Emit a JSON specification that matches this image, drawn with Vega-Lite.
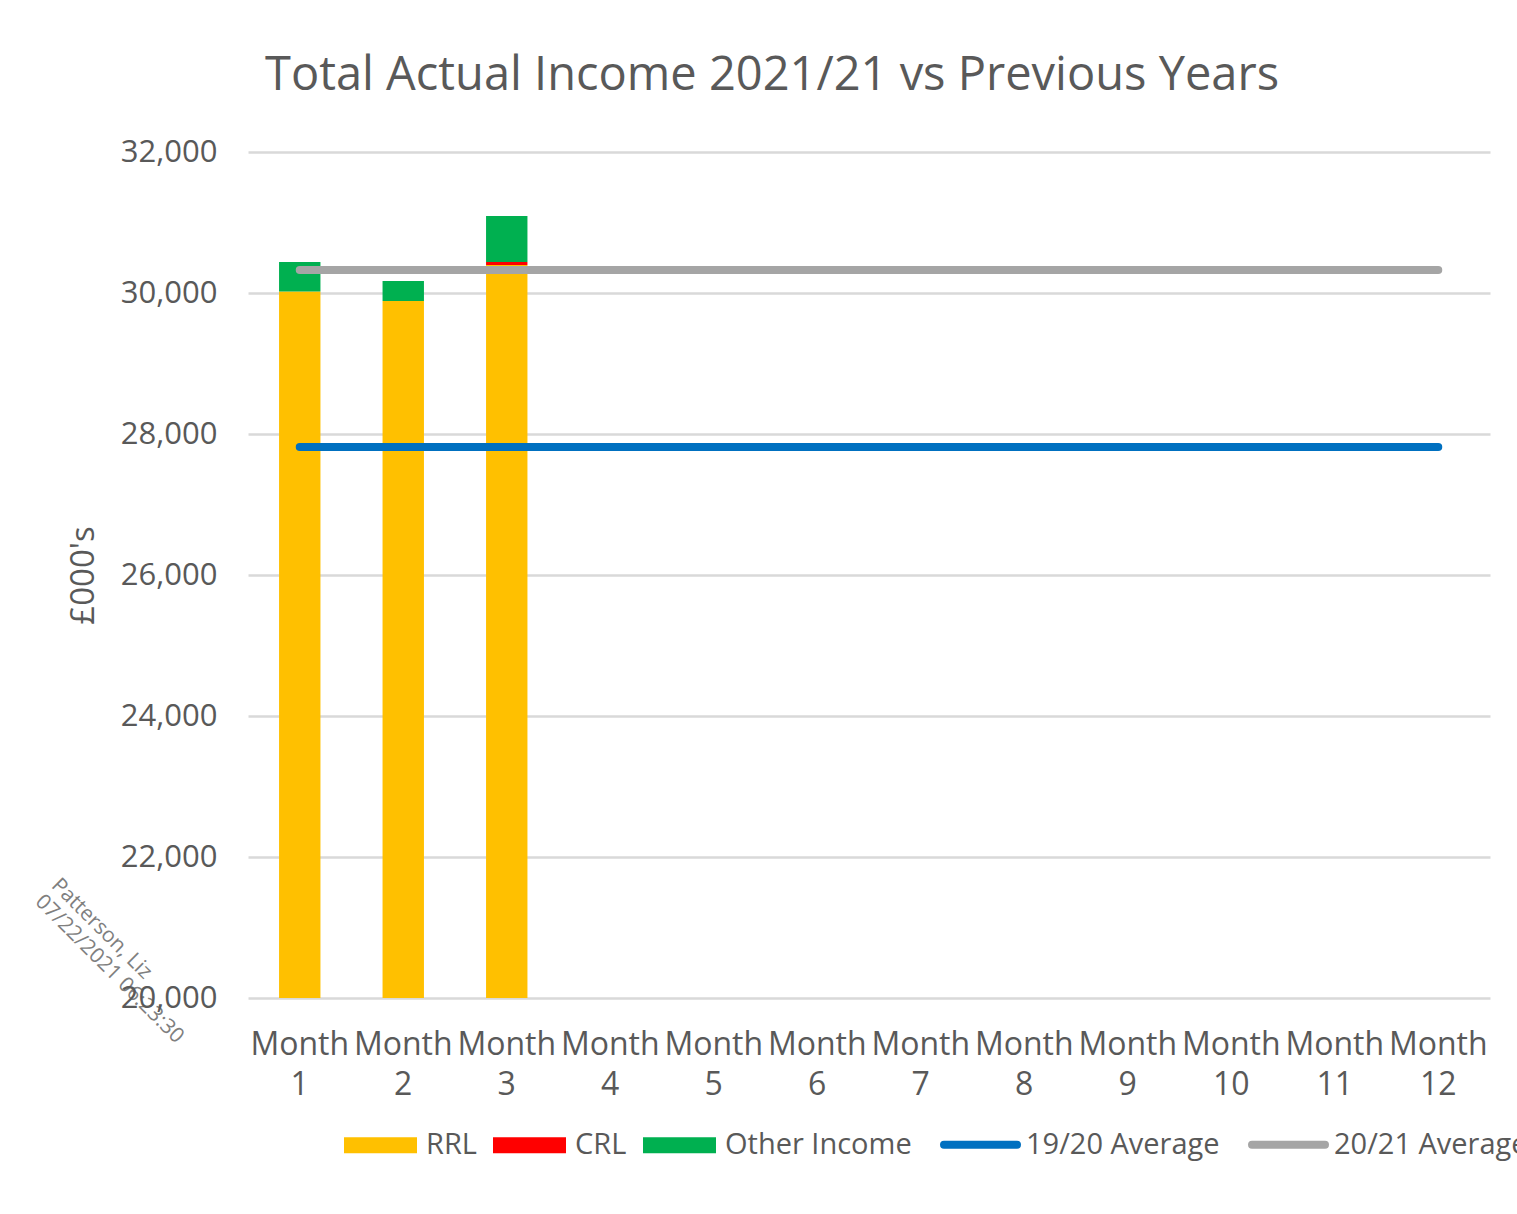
{
  "$schema": "https://vega.github.io/schema/vega-lite/v6.json",
  "width": 1242,
  "height": 846,
  "autosize": {"type": "none"},
  "padding": {"left": 248, "top": 152, "right": 27, "bottom": 216},
  "background": "white",
  "config": {"view": {"stroke": null}},
  "title": {
    "text": "Total Actual Income 2021/21 vs Previous Years",
    "anchor": "start",
    "frame": "group",
    "dx": 17,
    "offset": 36,
    "fontSize": 47,
    "font": "Open Sans",
    "fontWeight": "normal",
    "color": "#595959"
  },
  "datasets": {
    "bars": [
      {"month": 1, "series": "RRL", "value": 30020, "ord": 1},
      {"month": 1, "series": "CRL", "value": 0, "ord": 2},
      {"month": 1, "series": "Other Income", "value": 420, "ord": 3},
      {"month": 2, "series": "RRL", "value": 29887, "ord": 1},
      {"month": 2, "series": "CRL", "value": 0, "ord": 2},
      {"month": 2, "series": "Other Income", "value": 283, "ord": 3},
      {"month": 3, "series": "RRL", "value": 30397, "ord": 1},
      {"month": 3, "series": "CRL", "value": 43, "ord": 2},
      {"month": 3, "series": "Other Income", "value": 652, "ord": 3}
    ],
    "avgs": [
      {"month": 1, "series": "19/20 Average", "value": 27816},
      {"month": 2, "series": "19/20 Average", "value": 27816},
      {"month": 3, "series": "19/20 Average", "value": 27816},
      {"month": 4, "series": "19/20 Average", "value": 27816},
      {"month": 5, "series": "19/20 Average", "value": 27816},
      {"month": 6, "series": "19/20 Average", "value": 27816},
      {"month": 7, "series": "19/20 Average", "value": 27816},
      {"month": 8, "series": "19/20 Average", "value": 27816},
      {"month": 9, "series": "19/20 Average", "value": 27816},
      {"month": 10, "series": "19/20 Average", "value": 27816},
      {"month": 11, "series": "19/20 Average", "value": 27816},
      {"month": 12, "series": "19/20 Average", "value": 27816},
      {"month": 1, "series": "20/21 Average", "value": 30326},
      {"month": 2, "series": "20/21 Average", "value": 30326},
      {"month": 3, "series": "20/21 Average", "value": 30326},
      {"month": 4, "series": "20/21 Average", "value": 30326},
      {"month": 5, "series": "20/21 Average", "value": 30326},
      {"month": 6, "series": "20/21 Average", "value": 30326},
      {"month": 7, "series": "20/21 Average", "value": 30326},
      {"month": 8, "series": "20/21 Average", "value": 30326},
      {"month": 9, "series": "20/21 Average", "value": 30326},
      {"month": 10, "series": "20/21 Average", "value": 30326},
      {"month": 11, "series": "20/21 Average", "value": 30326},
      {"month": 12, "series": "20/21 Average", "value": 30326}
    ]
  },
  "encoding": {
    "x": {
      "field": "month",
      "type": "ordinal",
      "scale": {"domain": [1,2,3,4,5,6,7,8,9,10,11,12], "paddingInner": 0.6, "paddingOuter": 0.3},
      "axis": {
        "title": ["Patterson, Liz", "07/22/2021 06:23:30"],
        "titleAngle": 45,
        "titleX": -186,
        "titleY": -124,
        "titleAlign": "left",
        "titleBaseline": "top",
        "titleFont": "Open Sans",
        "titleFontSize": 21,
        "titleFontWeight": "normal",
        "titleColor": "#7f7f7f",
        "titleLineHeight": 23,
        "labelAngle": 0,
        "labelExpr": "['Month', datum.label]",
        "labelFont": "Open Sans",
        "labelFontSize": 32,
        "labelColor": "#595959",
        "labelLineHeight": 40,
        "labelPadding": 31,
        "ticks": false,
        "domain": false,
        "grid": false
      }
    },
    "y": {
      "field": "value",
      "type": "quantitative",
      "scale": {"domain": [20000, 32000], "zero": false, "nice": false},
      "axis": {
        "title": "£000's",
        "titleFont": "Open Sans",
        "titleFontSize": 33,
        "titleFontWeight": "normal",
        "titleColor": "#595959",
        "titlePadding": 20,
        "values": [20000, 22000, 24000, 26000, 28000, 30000, 32000],
        "format": ",.0f",
        "labelFont": "Open Sans",
        "labelFontSize": 31,
        "labelColor": "#595959",
        "labelPadding": 31,
        "ticks": false,
        "domain": false,
        "gridColor": "#D9D9D9",
        "gridWidth": 2.5
      }
    },
    "color": {
      "field": "series",
      "type": "nominal",
      "scale": {
        "domain": ["RRL", "CRL", "Other Income", "19/20 Average", "20/21 Average"],
        "range": ["#FFC000", "#FF0000", "#00B050", "#0070C0", "#A5A5A5"]
      },
      "legend": {
        "title": null,
        "orient": "none",
        "legendX": 118,
        "legendY": 978,
        "direction": "horizontal",
        "padding": 0,
        "labelFont": "Open Sans",
        "labelFontSize": 29,
        "labelColor": "#595959",
        "labelLimit": 400,
        "labelOffset": 31,
        "columnPadding": 16,
        "symbolSize": 5329,
        "symbolType": "M-1,-0.22H1V0.22H-1Z",
        "encode": {
          "symbols": {
            "update": {
              "shape": {"signal": "indexof(['RRL','CRL','Other Income'], datum.value) >= 0 ? 'M-1,-0.22H1V0.22H-1Z' : 'M-1,0H1'"},
              "fill": {"signal": "indexof(['RRL','CRL','Other Income'], datum.value) >= 0 ? scale('color', datum.value) : 'transparent'"},
              "stroke": {"signal": "scale('color', datum.value)"},
              "strokeWidth": {"signal": "indexof(['RRL','CRL','Other Income'], datum.value) >= 0 ? 0 : 8"},
              "strokeCap": {"value": "round"},
              "opacity": {"value": 1}
            }
          }
        }
      }
    }
  },
  "layer": [
    {
      "data": {"name": "bars"},
      "mark": {"type": "bar", "clip": true},
      "encoding": {
        "y": {"field": "value", "type": "quantitative", "stack": "zero"},
        "order": {"field": "ord", "type": "quantitative"}
      }
    },
    {
      "data": {"name": "avgs"},
      "mark": {"type": "line", "strokeWidth": 8, "strokeCap": "round"},
      "encoding": {}
    }
  ]
}
